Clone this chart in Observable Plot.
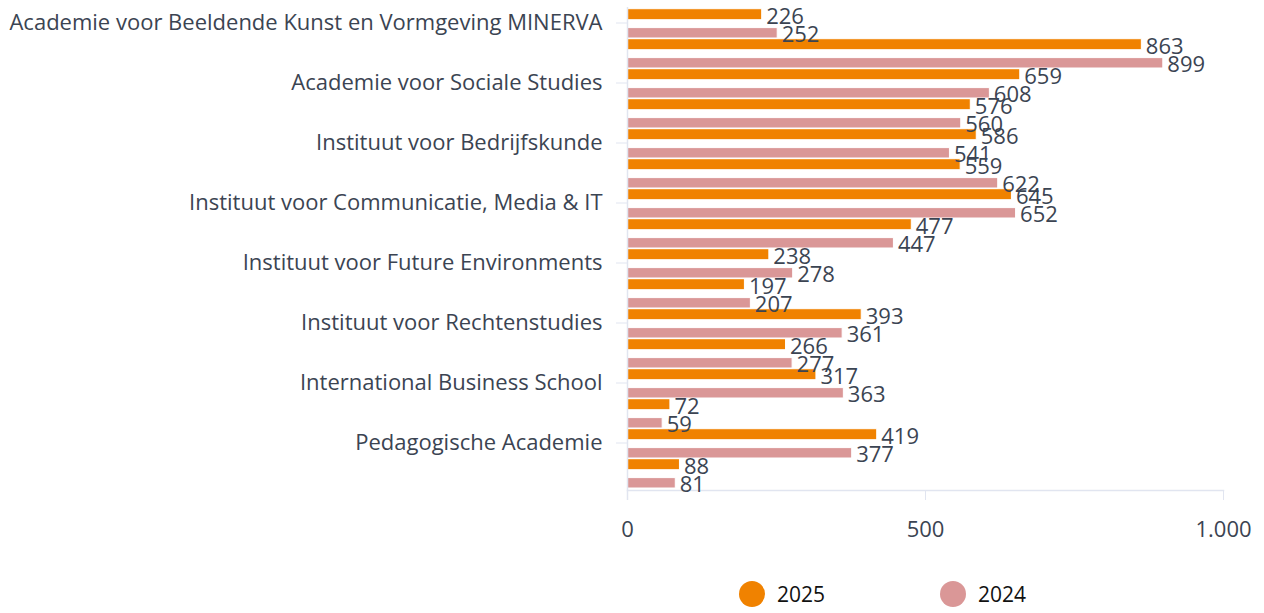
<!DOCTYPE html>
<html>
<head>
<meta charset="utf-8">
<script src="https://cdn.jsdelivr.net/npm/d3@7"></script>
<script src="https://cdn.jsdelivr.net/npm/@observablehq/plot@0.6"></script>
<style>
  html, body { margin: 0; padding: 0; background: #fff; }
  body { position: relative; width: 1264px; height: 613px; overflow: hidden; font-family: "Open Sans", sans-serif; }
  #legend .item { position: absolute; display: flex; align-items: center; font-size: 21px; color: #111; }
  #legend .sw { width: 26px; height: 26px; border-radius: 50%; margin-right: 12px; }
</style>
</head>
<body>
<div id="chart"></div>
<div id="legend"></div>
<script>
// Visible category labels (every other row in the reference carries a label)
const labels = [
  "Academie voor Beeldende Kunst en Vormgeving MINERVA",
  "Academie voor Sociale Studies",
  "Instituut voor Bedrijfskunde",
  "Instituut voor Communicatie, Media & IT",
  "Instituut voor Future Environments",
  "Instituut voor Rechtenstudies",
  "International Business School",
  "Pedagogische Academie"
];
// 16 rows: labelled rows plus an unlabelled row after each (label hidden in the reference)
const rows = labels.flatMap(l => [l, l + " (2)"]);
const series = ["2025", "2024"];
const v2025 = [226, 863, 659, 576, 586, 559, 645, 477, 238, 197, 393, 266, 317, 72, 419, 88];
const v2024 = [252, 899, 608, 560, 541, 622, 652, 447, 278, 207, 361, 277, 363, 59, 377, 81];
const xTicks = [0, 500, 1000];
const colors = {"2025": "#F08200", "2024": "#DA9797"};

const d25 = rows.map((r, i) => ({row: r, value: v2025[i]}));
const d24 = rows.map((r, i) => ({row: r, value: v2024[i]}));

const nl = d3.formatLocale({decimal: ",", thousands: ".", grouping: [3], currency: ["€", ""]});
const fmt = nl.format(",d");

const textColor = "#3b4452";
const lineColor = "#e1e5f0";

const chart = Plot.plot({
  width: 1264,
  height: 560,
  marginLeft: 627,
  marginRight: 41,
  marginTop: 7,
  marginBottom: 70,
  style: {fontFamily: "Open Sans", fontSize: "21px", color: textColor, background: "#fff"},
  x: {domain: [0, 1000]},
  y: {domain: rows, padding: 0},
  marks: [
    Plot.axisY({
      ticks: labels,
      tickSize: 11,
      tickPadding: 14,
      stroke: lineColor,
      strokeOpacity: 1,
      fill: textColor,
      fontSize: 22,
      dy: -1.5,
      label: null
    }),
    Plot.axisX({
      ticks: xTicks,
      tickSize: 10,
      tickPadding: 21,
      stroke: lineColor,
      strokeOpacity: 1,
      fill: textColor,
      fontSize: 22,
      tickFormat: fmt,
      label: null
    }),
    Plot.barX(d25, {x: "value", y: "row", fill: colors["2025"], stroke: "#fff", strokeWidth: 1, insetTop: -0.3, insetBottom: 19.3}),
    Plot.barX(d24, {x: "value", y: "row", fill: colors["2024"], stroke: "#fff", strokeWidth: 1, insetTop: 18.6, insetBottom: 1}),
    Plot.ruleX([0], {stroke: lineColor, strokeWidth: 1.5, insetBottom: -10}),
    Plot.frame({anchor: "bottom", stroke: lineColor, strokeWidth: 1.5}),
    Plot.text(d25, {x: "value", y: "row", text: d => fmt(d.value), dx: 4, dy: -7.5, textAnchor: "start", fill: textColor, fontSize: 22}),
    Plot.text(d24, {x: "value", y: "row", text: d => fmt(d.value), dx: 4, dy: 10, textAnchor: "start", fill: textColor, fontSize: 22})
  ]
});
document.getElementById("chart").appendChild(chart);

const legend = document.getElementById("legend");
const lefts = [739, 940];
series.forEach((s, i) => {
  const it = document.createElement("div");
  it.className = "item";
  it.style.left = lefts[i] + "px";
  it.style.top = "581px";
  it.style.height = "26px";
  const sw = document.createElement("span");
  sw.className = "sw";
  sw.style.background = colors[s];
  const tx = document.createElement("span");
  tx.textContent = s;
  it.appendChild(sw);
  it.appendChild(tx);
  legend.appendChild(it);
});
</script>
</body>
</html>
